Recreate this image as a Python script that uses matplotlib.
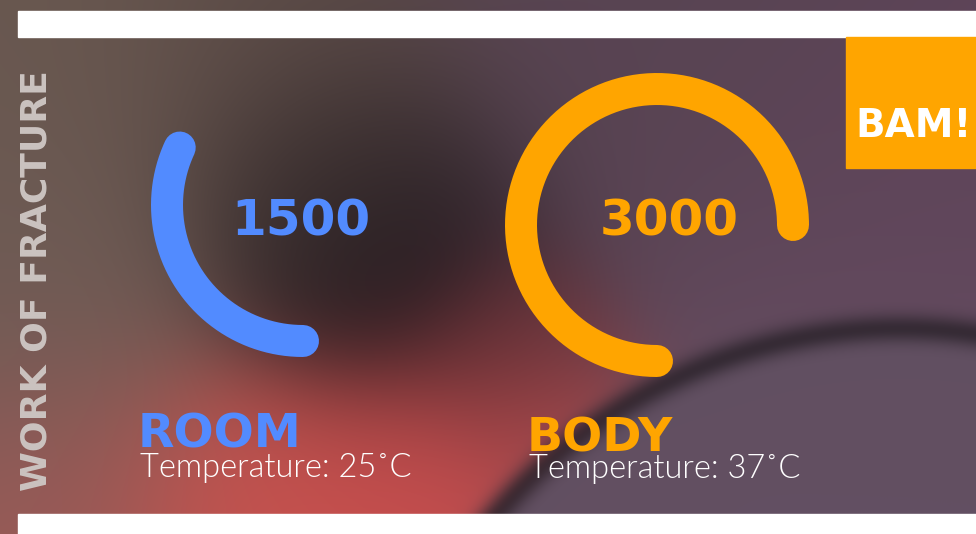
import numpy as np
import matplotlib
matplotlib.use("Agg")
import matplotlib.pyplot as plt
from matplotlib.patches import Rectangle

# ---- data ----
gauge_values = ["1500", "3000"]
gauge_sweep_deg = [115, 270]          # arc length
gauge_colors = ["#528BFF", "#FFA500"]
gauge_names = ["ROOM", "BODY"]
gauge_temps = ["Temperature: 25˚C", "Temperature: 37˚C"]
side_title = "WORK OF FRACTURE"
badge_text = "BAM!"

HEAVY = "DejaVu Sans"
W, H = 976, 534
fig = plt.figure(figsize=(W / 100, H / 100), dpi=100)
ax = fig.add_axes([0, 0, 1, 1])
ax.set_xlim(0, W)
ax.set_ylim(H, 0)
ax.axis("off")

# ---- photographic-looking background ----
yy, xx = np.mgrid[0:H, 0:W].astype(float)
anchors = [
    (30, 60, (105, 88, 80), 150),
    (30, 300, (112, 92, 86), 120),
    (40, 500, (155, 90, 87), 100),
    (280, 70, (90, 74, 70), 110),
    (390, 260, (28, 20, 26), 95),
    (320, 190, (50, 40, 40), 80),
    (250, 505, (200, 82, 78), 90),
    (430, 480, (200, 78, 78), 90),
    (560, 440, (170, 72, 74), 60),
    (520, 350, (110, 50, 55), 60),
    (650, 70, (88, 68, 82), 150),
    (880, 240, (95, 68, 90), 150),
    (850, 460, (105, 82, 100), 150),
]
num = np.zeros((H, W, 3))
den = np.zeros((H, W))
for ax_, ay_, c, s in anchors:
    w = np.exp(-((xx - ax_) ** 2 + (yy - ay_) ** 2) / (2 * s ** 2))
    num += w[..., None] * np.array(c)
    den += w
img = num / den[..., None]
# lens-like disc lower right
d = np.sqrt((xx - 900) ** 2 + (yy - 860) ** 2)
R = 540
inside = 1 / (1 + np.exp((d - R) / 6))
rim = np.exp(-((d - R + 8) ** 2) / (2 * 10 ** 2))
img = img * (1 - inside[..., None]) + inside[..., None] * np.array([98, 80, 98])
img = img * (1 - 0.45 * rim[..., None])
img = np.clip(img, 0, 255) / 255
ax.imshow(img, extent=(0, W, H, 0), zorder=0, interpolation="bilinear")

# white bars
ax.add_patch(Rectangle((18, 11), W - 18, 26, color="white", zorder=1))
ax.add_patch(Rectangle((18, 514), W - 18, 20, color="white", zorder=1))

# badge
ax.add_patch(Rectangle((846, 37), W - 846, 131, color="#FFA500", zorder=2))
ax.text(914, 137, badge_text, color="white", fontsize=28, family=HEAVY,
        weight="bold", ha="center", va="baseline", zorder=3)

# side title
ax.text(37, 281, side_title, color="#cbc3c0", fontsize=26, family=HEAVY,
        weight="bold", rotation=90, ha="center", va="center", zorder=3)

# gauges
centers = [(303, 205), (657, 225)]
radius = 136
num_pos = [(301, 235), (669, 235)]
name_pos = [(138, 448), (527, 452)]
temp_pos = [(140, 477), (529, 478)]
for i in range(2):
    cx, cy = centers[i]
    th = np.radians(np.linspace(270, 270 - gauge_sweep_deg[i], 200))
    ax.plot(cx + radius * np.cos(th), cy - radius * np.sin(th),
            color=gauge_colors[i], lw=32 * 0.72, solid_capstyle="round", zorder=3)
    ax.text(*num_pos[i], gauge_values[i], color=gauge_colors[i], fontsize=36,
            family=HEAVY, weight="bold", ha="center", va="baseline", zorder=4)
    ax.text(*name_pos[i], gauge_names[i], color=gauge_colors[i], fontsize=34,
            family=HEAVY, weight="bold", ha="left", va="baseline", zorder=4)
    ax.text(*temp_pos[i], gauge_temps[i], color="white", fontsize=23.5,
            family="Lato", weight=300, ha="left", va="baseline", zorder=4)

fig.savefig("out.png", dpi=100)
